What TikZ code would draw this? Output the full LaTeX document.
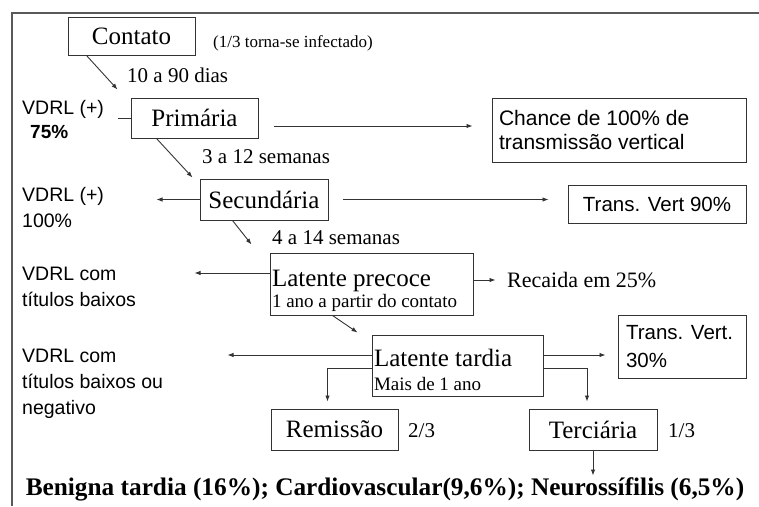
\documentclass[tikz,border=0pt]{standalone}
\usepackage{fontspec}
\setmainfont{Liberation Serif}
\newfontfamily\arialfont{Liberation Sans}
\usetikzlibrary{arrows.meta}

\newcommand{\tcaixa}{\fontsize{25}{28}\selectfont}
\newcommand{\tmenor}{\fontsize{19}{22}\selectfont}
\newcommand{\tseta}{\fontsize{21}{24}\selectfont}
\newcommand{\tsans}{\arialfont\fontsize{19.5}{26}\selectfont}

\begin{document}
\begin{tikzpicture}[x=1pt,y=-1pt,
  caixa/.style={draw=black!80,line width=1pt,inner sep=2pt,font=\tcaixa},
  seta/.style={-{Latex[length=6pt,width=4.5pt]},black!80,line width=0.9pt},
  linha/.style={black!80,line width=0.9pt},
  rotulo/.style={anchor=west,font=\tseta,inner sep=0pt},
  lado/.style={anchor=west,align=left,font=\tsans,inner sep=0pt}]
  \useasboundingbox (0,0) rectangle (759,506);

  % ===== Frame =====
  \draw[black!65,line width=1.6pt] (759,13) -- (12,13) -- (12,506);

  % ===== Boxes =====
  \node[caixa,minimum width=127,minimum height=38] (contato) at (131.5,36) {Contato};
  \node[caixa,minimum width=127,minimum height=40] (primaria) at (194.5,118) {Primária};
  \node[caixa,minimum width=128,minimum height=41] (secundaria) at (264,199.5) {Secundária};
  \node[caixa,align=flush left,text width=199,text height=30,minimum height=62] (precoce) at (371.5,284)
    {Latente precoce\\[-7pt]{\tmenor 1 ano a partir do contato}};
  \node[caixa,align=flush left,text width=167,text height=26,minimum height=61] (tardia) at (457.5,365.5)
    {Latente tardia\\[-4pt]{\tmenor Mais de 1 ano}};
  \node[caixa,minimum width=127,minimum height=41] (remissao) at (334.5,429.5) {Remissão};
  \node[caixa,minimum width=128,minimum height=41] (terciaria) at (593,429.5) {Terciária};

  % --- Transmission boxes (sans) ---
  \node[caixa,font=\arialfont\fontsize{21}{24}\selectfont,align=flush left,inner sep=7pt,
    text width=240,minimum height=64] (chance) at (619,130)
    {Chance de 100\% de\\transmissão vertical};
  \node[caixa,font=\arialfont\fontsize{20.5}{24}\selectfont,minimum width=178,minimum height=38]
    (tv90) at (657,204) {Trans. Vert 90\%};
  \node[caixa,font=\arialfont\fontsize{20.5}{28}\selectfont,align=flush left,inner sep=8pt,
    text width=112,minimum height=63] (tv30) at (682,346.5) {Trans. Vert.\\30\%};

  % --- Labels ---
  \node[rotulo,font=\fontsize{17}{20}\selectfont] (infect) at (213,43) {(1/3 torna-se infectado)};
  \node[rotulo] (dias) at (127,75) {10 a 90 dias};
  \node[rotulo] (sem1) at (202,157) {3 a 12 semanas};
  \node[rotulo] (sem2) at (272,238) {4 a 14 semanas};
  \node[rotulo,font=\fontsize{22}{25}\selectfont] (recaida) at (507,280) {Recaida em 25\%};
  \node[rotulo] (doistercos) at (408,431) {2/3};
  \node[rotulo] (umterco) at (668,431) {1/3};

  % --- VDRL (left column) ---
  \node[lado] (vdrl1) at (22,109) {VDRL (+)};
  \node[lado,font=\arialfont\bfseries\fontsize{19}{22}\selectfont] (vdrl1p) at (30,132) {75\%};
  \node[lado] (vdrl2) at (22,208) {VDRL (+)\\100\%};
  \node[lado] (vdrl3) at (22,287) {VDRL com\\títulos baixos};
  \node[lado] (vdrl4) at (22,384) {VDRL com\\títulos baixos ou\\negativo};

  % --- Outcome line ---
  \node[anchor=base,font=\bfseries\fontsize{25.3}{29}\selectfont,inner sep=0pt] (desfecho)
    at (385,495) {Benigna tardia (16\%); Cardiovascular(9,6\%); Neurossífilis (6,5\%)};

  % ===== Connectors =====
  \draw[seta] ([xshift=19pt]contato.south west) -- ([xshift=-13pt,yshift=8pt]primaria.north west);
  \draw[linha] (primaria.west) -- ++(-13,0);
  \draw[seta] ([xshift=15pt,yshift=-8pt]primaria.east) -- ++(199,0);

  \draw[seta] ([xshift=26pt]primaria.south west) -- ([xshift=-7pt,yshift=1pt]secundaria.north west);
  \draw[seta] (secundaria.west) -- ++(-43,0);
  \draw[seta] ([xshift=14pt]secundaria.east) -- ++(206,0);

  \draw[seta] ([xshift=33pt]secundaria.south west) -- ([xshift=-18pt,yshift=8pt]precoce.north west);
  \draw[seta] ([yshift=11pt]precoce.west) -- ++(-75,0);
  \draw[seta] ([yshift=4pt]precoce.east) -- ++(22,0);

  \draw[seta] ([xshift=63pt]precoce.south west) -- ([xshift=-14pt,yshift=2pt]tardia.north west);
  \draw[seta] ([yshift=10.5pt]tardia.west) -- ++(-144,0);
  \draw[seta] ([yshift=10.5pt]tardia.east) -- ++(62,0);
  \draw[seta] ([yshift=-2.5pt]tardia.west) -| ([xshift=-7pt,yshift=7pt]remissao.north);
  \draw[seta] ([yshift=-2.5pt]tardia.east) -| ([xshift=-6pt,yshift=7pt]terciaria.north);
  \draw[seta] (terciaria.south) -- ++(0,25);
\end{tikzpicture}
\end{document}
